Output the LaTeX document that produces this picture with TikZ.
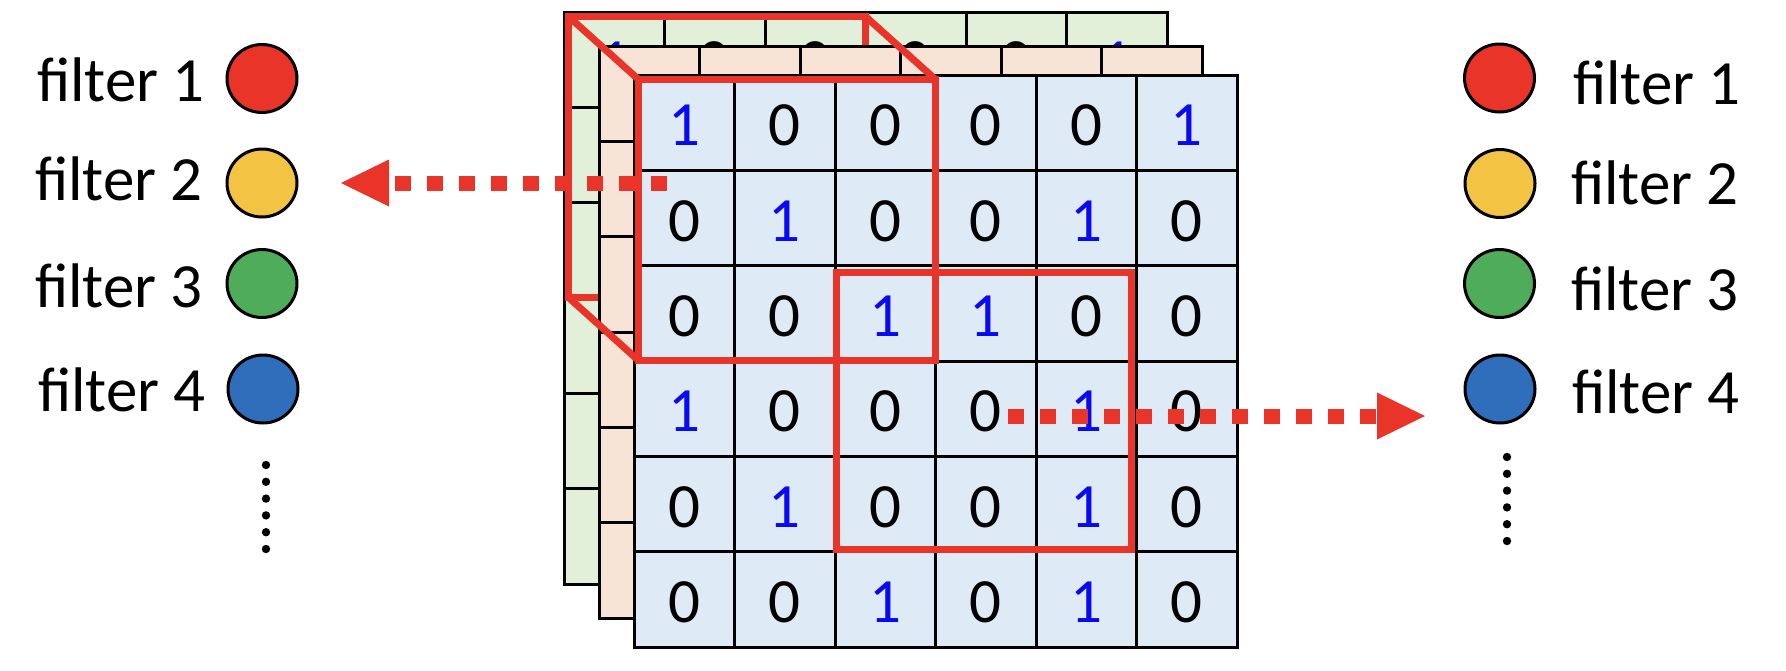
\documentclass[tikz,border=0pt]{standalone}
\usepackage{fontspec}
\setmainfont{Carlito}
\usetikzlibrary{arrows.meta,shapes.geometric}
\definecolor{fred}{HTML}{E9342A}
\definecolor{fyellow}{HTML}{F3C343}
\definecolor{fgreen}{HTML}{4FAC5B}
\definecolor{fblue}{HTML}{2F6EBA}
\definecolor{dblue}{HTML}{0A0AF0}
\definecolor{cfront}{HTML}{DEEAF6}
\definecolor{cmid}{HTML}{F8E4D6}
\definecolor{cback}{HTML}{E2EFD9}
\newcommand\dg[1]{\ifnum#1=1 \textcolor{dblue}{1}\else 0\fi}
\newcommand\drawlayer[4]{%
  \fill[#3] ({634+#1},{75+#2}) rectangle ({1237+#1},{647+#2});
  \foreach \i in {0,...,6} {
    \draw[gridline] ({634+#1+\i*100.5},{75+#2}) -- ++(0,572);
    \draw[gridline] ({634+#1},{75+#2+\i*95.333}) -- ++(603,0);
  }
  \foreach \vals [count=\r from 0] in {{1,0,0,0,0,1},{0,1,0,0,1,0},{0,0,1,1,0,0},{1,0,0,0,1,0},{0,1,0,0,1,0},{0,0,1,0,1,0}} {
    \foreach \v [count=\c from 0] in \vals {
      \node[digit] (#4-\r-\c) at ({634+#1+(\c+0.5)*100.5},{75+#2+(\r+0.5)*95.333+3}) {\dg{\v}};
    }
  }
}
\begin{document}
\begin{tikzpicture}[x=1pt,y=-1pt,
  gridline/.style={line width=3pt,line cap=rect},
  digit/.style={inner sep=0pt,font=\fontsize{63}{70}\selectfont},
  redbox/.style={draw=fred,line width=7pt,line join=miter},
  flow/.style={draw=fred,line width=15pt,dash pattern=on 16pt off 16pt,
    -{Triangle[length=48pt,width=47pt,line width=0pt,fill=fred]}},
  fdot/.style={ellipse,draw=black,line width=3pt,minimum width=70pt,minimum height=68pt,inner sep=0pt},
  lab/.style={inner sep=0pt,font=\fontsize{63}{70}\selectfont}]
\useasboundingbox (0,0) rectangle (1786,670);
% back layer
\drawlayer{-70}{-63}{cback}{b}
\draw[redbox] (568,16) rectangle (865,297);
% middle layer
\drawlayer{-35}{-29}{cmid}{m}
% front layer
\drawlayer{0}{0}{cfront}{f}
% frustum edges
\draw[redbox] (568,16) -- (638,79);
\draw[redbox] (865,16) -- (935,79);
\draw[redbox] (568,297) -- (638,360);
% windows
\draw[redbox] (638,79) rectangle (935,360);
\draw[redbox] (836,272) rectangle (1131,549);
% arrows
\coordinate (la-s) at (667,183);
\coordinate (la-e) at (341,183);
\draw[flow] (la-s) -- (la-e);
\coordinate (ra-s) at (1008,416);
\coordinate (ra-e) at (1425,416);
\draw[flow] (ra-s) -- (ra-e);
% left legend
\node[fdot,fill=fred]    (L1) at (262,78.5) {};
\node[fdot,fill=fyellow] (L2) at (262,183) {};
\node[fdot,fill=fgreen]  (L3) at (262,283.5) {};
\node[fdot,fill=fblue]   (L4) at (263,389) {};
\node[lab,anchor=base east] (LT1) at (205,101) {filter 1};
\node[lab,anchor=base east] (LT2) at (203,200) {filter 2};
\node[lab,anchor=base east] (LT3) at (203,307) {filter 3};
\node[lab,anchor=base east] (LT4) at (206,411) {filter 4};
\foreach \k in {0,...,5} \fill (266,{465+\k*16.8}) circle (4.2pt);
% right legend
\node[fdot,fill=fred]    (R1) at (1499.5,78) {};
\node[fdot,fill=fyellow] (R2) at (1500,183.5) {};
\node[fdot,fill=fgreen]  (R3) at (1499.5,283.5) {};
\node[fdot,fill=fblue]   (R4) at (1500,389) {};
\node[lab,anchor=base west] (RT1) at (1573,104) {filter 1};
\node[lab,anchor=base west] (RT2) at (1571,204) {filter 2};
\node[lab,anchor=base west] (RT3) at (1571,310) {filter 3};
\node[lab,anchor=base west] (RT4) at (1572,413) {filter 4};
\foreach \k in {0,...,5} \fill (1507,{457+\k*16.8}) circle (4.2pt);
\end{tikzpicture}
\end{document}
